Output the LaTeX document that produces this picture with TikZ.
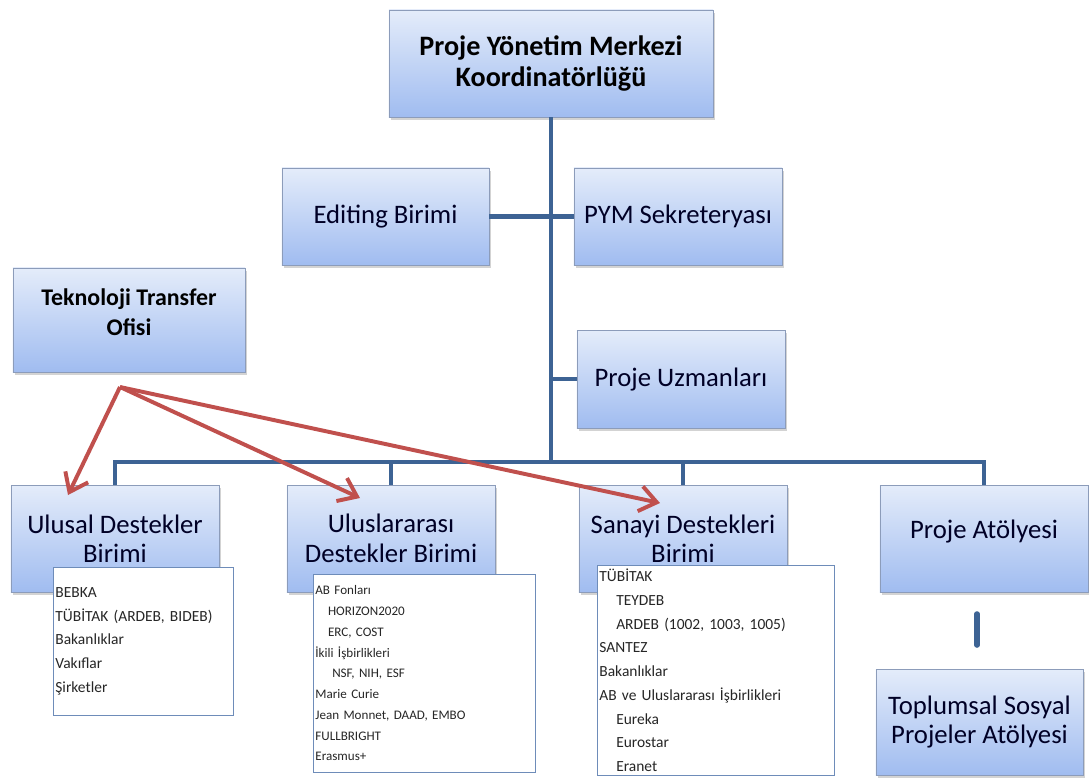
\documentclass[tikz,border=0pt]{standalone}
\usepackage{fontspec}
\setmainfont{Carlito}
\usetikzlibrary{arrows.meta,shadows}
\definecolor{boxtop}{RGB}{228,236,250}
\definecolor{boxbot}{RGB}{160,188,240}
\definecolor{boxline}{RGB}{140,156,186}
\definecolor{linkblue}{RGB}{61,99,148}
\definecolor{tipred}{RGB}{192,80,77}
\definecolor{listline}{RGB}{110,140,185}
\frenchspacing

\begin{document}
\begin{tikzpicture}[x=0.025cm,y=-0.025cm,
   unitbox/.style={draw=boxline,top color=boxtop,bottom color=boxbot,align=center,
     minimum width=5.2cm,minimum height=2.675cm,inner sep=2pt,text=black!85!blue,
     font=\fontsize{19}{21}\selectfont,
     drop shadow={shadow xshift=1.2pt,shadow yshift=-1.8pt,opacity=0.35}},
   listbox/.style={draw=listline,fill=white,align=left,anchor=north west,
     inner xsep=1.5pt,inner ysep=0pt,text=black!85,
     font=\fontsize{11}{16.9}\selectfont},
   linkline/.style={draw=linkblue,line width=3pt},
   ttoarrow/.style={draw=tipred,line width=2.8pt,
     -{Straight Barb[length=12pt,width=18pt]}}]
   \useasboundingbox (0,0) rectangle (1089,779);

   \node[unitbox,minimum width=8.1cm,text=black,
     font=\bfseries\fontsize{20}{21.5}\selectfont] (koord) at (551,63.5)
     {Proje Yönetim Merkezi\\Koordinatörlüğü};
   \node[unitbox,minimum width=5.175cm,minimum height=2.425cm] (editing) at (385.5,216.5) {Editing Birimi};
   \node[unitbox,minimum width=5.2cm,minimum height=2.425cm] (sekreter) at (678,216.5) {PYM Sekreteryası};
   \node[unitbox,minimum width=5.8cm,minimum height=2.6cm,text=black,
     font=\bfseries\fontsize{17}{21.5}\selectfont] (tto) at (129,320)
     {Teknoloji Transfer\\Ofisi\\[-10pt]\mbox{}};
   \node[unitbox,minimum height=2.45cm] (uzman) at (681,379) {Proje Uzmanları};

   \node[unitbox] (ulusal) at (115,538.5) {Ulusal Destekler\\Birimi};
   \node[unitbox] (uluslar) at (391,538.5) {Uluslararası\\Destekler Birimi};
   \node[unitbox] (sanayi) at (683,538.5) {Sanayi Destekleri\\Birimi};
   \node[unitbox] (atolye) at (984,538.5) {Proje Atölyesi\\[-8pt]\mbox{}};
   \node[unitbox,minimum width=5.175cm,minimum height=2.65cm] (toplum) at (979.5,722)
     {Toplumsal Sosyal\\Projeler Atölyesi};

   \coordinate (hub) at (551,462);
   \draw[linkline] (koord.south) -- (hub);
   \draw[linkline] (editing.east) -- (sekreter.west);
   \draw[linkline] (koord.south |- uzman.west) -- (uzman.west);
   \draw[linkline] (ulusal.north) |- (hub) -| (atolye.north);
   \draw[linkline] (uluslar.north |- hub) -- (uluslar.north);
   \draw[linkline] (sanayi.north |- hub) -- (sanayi.north);
   \coordinate (gap-a) at (977,614);
   \coordinate (gap-b) at (977,645);
   \draw[linkline,line width=4pt,line cap=round] (gap-a) -- (gap-b);

   \node[listbox,text width=4.39cm,minimum height=3.7cm] (list-ulusal) at (53,567)
     {BEBKA\\TÜBİTAK (ARDEB, BIDEB)\\Bakanlıklar\\Vakıflar\\Şirketler};
   \node[listbox,text width=5.44cm,minimum height=4.95cm,
     font=\fontsize{9.3}{14.76}\selectfont] (list-uluslar) at (313,574)
     {AB Fonları\\\hspace*{9pt}HORIZON2020\\\hspace*{9pt}ERC, COST\\İkili İşbirlikleri\\
      \hspace*{12pt}NSF, NIH, ESF\\Marie Curie\\Jean Monnet, DAAD, EMBO\\FULLBRIGHT\\Erasmus+};
   \node[listbox,text width=5.82cm,minimum height=5.25cm] (list-sanayi) at (597,565)
     {TÜBİTAK\\\hspace*{12pt}TEYDEB\\\hspace*{12pt}ARDEB (1002, 1003, 1005)\\SANTEZ\\
      Bakanlıklar\\AB ve Uluslararası İşbirlikleri\\\hspace*{12pt}Eureka\\
      \hspace*{12pt}Eurostar\\\hspace*{12pt}Eranet};

   \coordinate (tto-src) at (120,387);
   \coordinate (tip-a) at (68,495);
   \coordinate (tip-b) at (360,498);
   \coordinate (tip-c) at (660,503);
   \draw[ttoarrow] (tto-src) -- (tip-a);
   \draw[ttoarrow] (tto-src) -- (tip-b);
   \draw[ttoarrow] (tto-src) -- (tip-c);
\end{tikzpicture}
\end{document}
